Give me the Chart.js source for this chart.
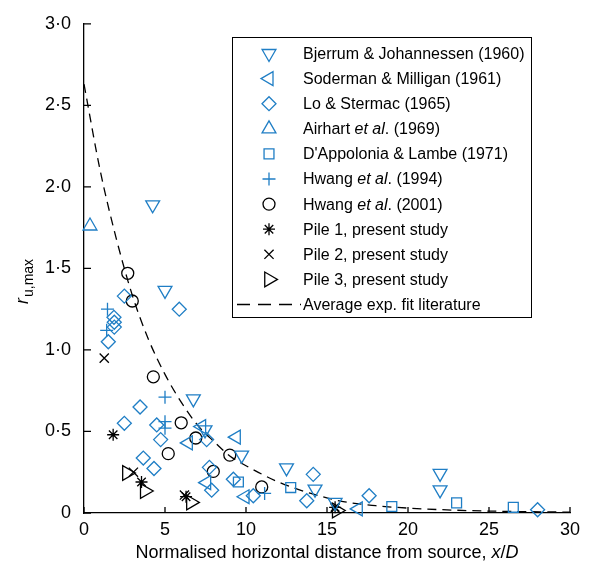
<!DOCTYPE html>
<html>
<head>
<meta charset="utf-8">
<script src="https://cdn.jsdelivr.net/npm/chart.js@4.4.1/dist/chart.umd.min.js"></script>
<style>
  html, body { margin: 0; padding: 0; background: #fff; }
  canvas { display: block; }
</style>
</head>
<body>
<canvas id="pwpChart" width="593" height="569"></canvas>
<script>
// Data (x = x/D, y = r_u,max)
const bjerrum = [[4.24, 1.89], [5.0, 1.365], [6.75, 0.70], [7.47, 0.51], [9.73, 0.355],
  [12.5, 0.277], [14.26, 0.146], [15.5, 0.065], [21.98, 0.243], [21.98, 0.142]];
const soderman = [[7.26, 0.53], [6.44, 0.43], [9.4, 0.465], [7.57, 0.186], [9.94, 0.10], [16.93, 0.025]];
const loStermac = [[2.49, 1.33], [5.88, 1.25], [1.85, 1.20], [1.87, 1.17], [1.87, 1.14], [1.5, 1.05],
  [3.46, 0.65], [2.49, 0.55], [4.49, 0.54], [4.73, 0.45], [3.66, 0.337], [4.32, 0.273],
  [7.57, 0.45], [7.74, 0.28], [7.88, 0.14], [9.22, 0.207], [10.45, 0.106], [14.15, 0.237],
  [13.75, 0.075], [17.6, 0.106], [28.0, 0.02]];
const airhart = [[0.37, 1.76]];
const dappolonia = [[9.53, 0.19], [12.76, 0.156], [19.0, 0.04], [23.0, 0.062], [26.5, 0.035]];
const hwang1994 = [[1.45, 1.25], [1.4, 1.12], [5.0, 0.71], [5.0, 0.56], [5.0, 0.52], [11.15, 0.12]];
const hwang2001 = [[2.7, 1.47], [2.98, 1.30], [4.28, 0.835], [6.0, 0.553], [5.2, 0.364],
  [6.9, 0.46], [9.0, 0.355], [7.98, 0.255], [10.97, 0.16]];
const pile1 = [[1.8, 0.48], [3.55, 0.19], [6.3, 0.10], [15.5, 0.035]];
const pile2 = [[1.25, 0.95], [3.05, 0.25], [6.2, 0.11], [15.5, 0.03]];
const pile3 = [[2.65, 0.245], [3.75, 0.135], [6.6, 0.065], [15.6, 0.015]];
// average exponential fit
const fitX = [0, 1, 2, 3, 4, 5, 6, 7, 8, 9, 10, 12, 14, 16, 18, 20, 23, 26, 30];
const fitY = [2.63, 2.10, 1.68, 1.33, 1.06, 0.85, 0.68, 0.54, 0.44, 0.35, 0.29, 0.19, 0.12, 0.07, 0.045, 0.03, 0.017, 0.01, 0.005];

const xTicks = [0, 5, 10, 15, 20, 25, 30];
const yTicks = [0, 0.5, 1.0, 1.5, 2.0, 2.5, 3.0];

const BLUE = '#1f7ec5';
const FONT = "'Liberation Sans', Arial, sans-serif";

function pts(arr) {
    return arr.map(p => ({ x: p[0], y: p[1] }));
}

function markerSet(label, data, color, style, rotation, radius) {
    return {
        type: 'scatter',
        label: label,
        data: pts(data),
        pointStyle: style,
        rotation: rotation,
        radius: radius,
        borderColor: color,
        backgroundColor: 'rgba(0,0,0,0)',
        borderWidth: 1.3,
        clip: false
    };
}

// legend text pieces: [text, italic]
const legendText = [
    [['Bjerrum & Johannessen (1960)', false]],
    [['Soderman & Milligan (1961)', false]],
    [['Lo & Stermac (1965)', false]],
    [['Airhart ', false], ['et al', true], ['. (1969)', false]],
    [["D'Appolonia & Lambe (1971)", false]],
    [['Hwang ', false], ['et al', true], ['. (1994)', false]],
    [['Hwang ', false], ['et al', true], ['. (2001)', false]],
    [['Pile 1, present study', false]],
    [['Pile 2, present study', false]],
    [['Pile 3, present study', false]],
    [['Average exp. fit literature', false]]
];

const datasets = [
    markerSet('Bjerrum', bjerrum, BLUE, 'triangle', 180, 8),
    markerSet('Soderman', soderman, BLUE, 'triangle', -90, 8),
    markerSet('Lo', loStermac, BLUE, 'rectRot', 0, 7),
    markerSet('Airhart', airhart, BLUE, 'triangle', 0, 8),
    markerSet('DAppolonia', dappolonia, BLUE, 'rect', 0, 7),
    markerSet('Hwang1994', hwang1994, BLUE, 'cross', 0, 6.5),
    markerSet('Hwang2001', hwang2001, '#000', 'circle', 0, 6),
    markerSet('Pile1', pile1, '#000', 'star', 0, 6),
    markerSet('Pile2', pile2, '#000', 'crossRot', 0, 6.5),
    markerSet('Pile3', pile3, '#000', 'triangle', 90, 8.5),
    {
        type: 'line',
        label: 'Fit',
        data: fitX.map((x, i) => ({ x: x, y: fitY[i] })),
        borderColor: '#000',
        borderWidth: 1.3,
        borderDash: [9, 6],
        pointRadius: 0,
        fill: false,
        cubicInterpolationMode: 'monotone'
    }
];

function drawRich(ctx, pieces, x, y, size) {
    let cx = x;
    pieces.forEach(p => {
        ctx.font = (p[1] ? 'italic ' : '') + size + 'px ' + FONT;
        ctx.fillText(p[0], cx, y);
        cx += ctx.measureText(p[0]).width;
    });
}

function richWidth(ctx, pieces, size) {
    let w = 0;
    pieces.forEach(p => {
        ctx.font = (p[1] ? 'italic ' : '') + size + 'px ' + FONT;
        w += ctx.measureText(p[0]).width;
    });
    return w;
}

const decorPlugin = {
    id: 'decor',
    afterDraw(chart) {
        const ctx = chart.ctx;
        const area = chart.chartArea;
        const xs = chart.scales.x;
        const ys = chart.scales.y;
        ctx.save();

        // inward tick marks
        ctx.strokeStyle = '#000';
        ctx.lineWidth = 1.3;
        ctx.beginPath();
        xTicks.forEach(v => {
            const px = xs.getPixelForValue(v);
            ctx.moveTo(px, area.bottom);
            ctx.lineTo(px, area.bottom - 6);
        });
        yTicks.forEach(v => {
            const py = ys.getPixelForValue(v);
            ctx.moveTo(area.left, py);
            ctx.lineTo(area.left + 7, py);
        });
        ctx.stroke();

        // legend box
        const bx = 232, by = 37, bw = 299, bh = 280;
        ctx.fillStyle = '#fff';
        ctx.fillRect(bx, by, bw, bh);
        ctx.strokeStyle = '#000';
        ctx.lineWidth = 1;
        ctx.strokeRect(bx + 0.5, by + 0.5, bw, bh);

        ctx.textBaseline = 'middle';
        ctx.textAlign = 'left';
        ctx.fillStyle = '#000';
        legendText.forEach((pieces, i) => {
            const ry = 53.5 + i * 25.1;
            const ds = datasets[i];
            if (ds.type === 'line') {
                ctx.save();
                ctx.strokeStyle = '#000';
                ctx.lineWidth = 1.3;
                ctx.setLineDash([13, 8]);
                ctx.beginPath();
                ctx.moveTo(237, ry);
                ctx.lineTo(301, ry);
                ctx.stroke();
                ctx.restore();
            } else if (Chart.helpers && Chart.helpers.drawPoint) {
                ctx.save();
                ctx.strokeStyle = ds.borderColor;
                ctx.fillStyle = ds.backgroundColor;
                ctx.lineWidth = ds.borderWidth;
                Chart.helpers.drawPoint(ctx, {
                    pointStyle: ds.pointStyle,
                    rotation: ds.rotation,
                    radius: ds.radius,
                    borderWidth: ds.borderWidth
                }, 269, ry);
                ctx.restore();
            }
            ctx.fillStyle = '#000';
            drawRich(ctx, pieces, 303, ry + 1, 16);
        });

        // x axis title
        const xTitle = [['Normalised horizontal distance from source, ', false], ['x', true], ['/', false], ['D', true]];
        const w = richWidth(ctx, xTitle, 18);
        ctx.textBaseline = 'alphabetic';
        drawRich(ctx, xTitle, 327 - w / 2, 558, 18);

        // y axis title: r_u,max
        ctx.translate(28, 304);
        ctx.rotate(-Math.PI / 2);
        ctx.font = 'italic 18px ' + FONT;
        ctx.fillText('r', 0, 0);
        const rw = ctx.measureText('r').width;
        ctx.font = '14px ' + FONT;
        ctx.fillText('u,max', rw + 1, 5);

        ctx.restore();
    }
};

function initChart() {
    const canvas = document.getElementById('pwpChart');
    const ctx = canvas.getContext('2d');
    new Chart(ctx, {
        type: 'scatter',
        data: { datasets: datasets },
        options: {
            responsive: false,
            animation: false,
            devicePixelRatio: 1,
            layout: { padding: { top: 16, right: 23, left: 0, bottom: 0 } },
            plugins: {
                legend: { display: false },
                tooltip: { enabled: false }
            },
            scales: {
                x: {
                    type: 'linear',
                    min: 0,
                    max: 30,
                    afterFit: function(scale) { scale.height = 56; },
                    afterBuildTicks: function(scale) {
                        scale.ticks = xTicks.map(v => ({ value: v }));
                    },
                    grid: { display: false, drawTicks: false },
                    border: { display: true, color: '#000', width: 1.3 },
                    ticks: {
                        color: '#000',
                        padding: 6,
                        font: { family: FONT, size: 18 },
                        maxRotation: 0
                    }
                },
                y: {
                    type: 'linear',
                    min: 0,
                    max: 3,
                    afterFit: function(scale) { scale.width = 84; },
                    afterBuildTicks: function(scale) {
                        scale.ticks = yTicks.map(v => ({ value: v }));
                    },
                    grid: { display: false, drawTicks: false },
                    border: { display: true, color: '#000', width: 1.3 },
                    ticks: {
                        color: '#000',
                        padding: 13,
                        font: { family: FONT, size: 18 },
                        callback: function(value) {
                            return value === 0 ? '0' : value.toFixed(1).replace('.', '\u00b7');
                        }
                    }
                }
            }
        },
        plugins: [decorPlugin]
    });
}

document.addEventListener('DOMContentLoaded', initChart);
</script>
</body>
</html>
